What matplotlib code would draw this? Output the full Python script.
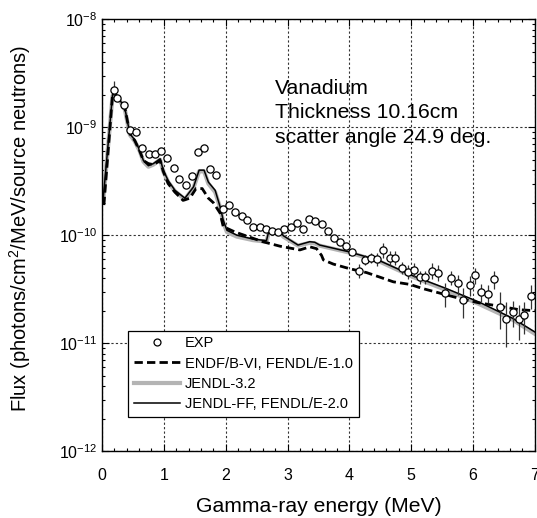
import matplotlib
matplotlib.use("Agg")
import matplotlib.pyplot as plt
import matplotlib.ticker as ticker
from matplotlib.lines import Line2D
import numpy as np

plt.rcParams['font.family'] = ['Liberation Sans', 'DejaVu Sans']
plt.rcParams['mathtext.fontset'] = 'custom'
plt.rcParams['mathtext.rm'] = 'Liberation Sans'
plt.rcParams['mathtext.it'] = 'Liberation Sans'

# measured spectrum
exp_e = [0.20, 0.25, 0.36, 0.46, 0.55, 0.65, 0.76, 0.86, 0.95, 1.05,
         1.16, 1.25, 1.35, 1.46, 1.56, 1.65, 1.745, 1.85, 1.95, 2.05,
         2.15, 2.26, 2.35, 2.44, 2.55, 2.65, 2.75, 2.85, 2.95, 3.05,
         3.15, 3.25, 3.35, 3.45, 3.55, 3.66, 3.75, 3.85, 3.95, 4.05,
         4.15, 4.25, 4.35, 4.45, 4.55, 4.65, 4.74, 4.85, 4.95, 5.05,
         5.14, 5.23, 5.34, 5.44, 5.54, 5.64, 5.75, 5.84, 5.95, 6.04,
         6.13, 6.24, 6.34, 6.43, 6.54, 6.64, 6.74, 6.83, 6.94]
exp_flux = [2.23e-9, 1.88e-9, 1.62e-9, 9.5e-10, 9.1e-10, 6.4e-10, 5.6e-10, 5.6e-10, 6.0e-10, 5.2e-10,
            4.2e-10, 3.3e-10, 2.9e-10, 3.5e-10, 5.9e-10, 6.4e-10, 4.1e-10, 3.6e-10, 1.73e-10, 1.92e-10,
            1.64e-10, 1.50e-10, 1.38e-10, 1.19e-10, 1.18e-10, 1.14e-10, 1.09e-10, 1.06e-10, 1.14e-10, 1.18e-10,
            1.30e-10, 1.13e-10, 1.41e-10, 1.35e-10, 1.28e-10, 1.09e-10, 9.5e-11, 8.7e-11, 7.9e-11, 7.0e-11,
            4.7e-11, 5.9e-11, 6.2e-11, 6.0e-11, 7.3e-11, 6.2e-11, 6.2e-11, 5.0e-11, 4.6e-11, 4.8e-11,
            4.1e-11, 4.1e-11, 4.7e-11, 4.5e-11, 2.9e-11, 4.05e-11, 3.57e-11, 2.5e-11, 3.44e-11, 4.26e-11,
            2.99e-11, 2.88e-11, 3.9e-11, 2.17e-11, 1.67e-11, 1.95e-11, 1.66e-11, 1.82e-11, 2.75e-11]
exp_relerr = [0.20, 0.06, 0.06, 0.05, 0.05, 0.05, 0.05, 0.05, 0.05, 0.05,
              0.05, 0.05, 0.05, 0.05, 0.05, 0.05, 0.05, 0.05, 0.05, 0.05,
              0.05, 0.05, 0.05, 0.05, 0.05, 0.05, 0.05, 0.05, 0.05, 0.05,
              0.05, 0.05, 0.05, 0.05, 0.05, 0.05, 0.06, 0.06, 0.06, 0.07,
              0.15, 0.11, 0.11, 0.13, 0.15, 0.15, 0.15, 0.13, 0.15, 0.15,
              0.13, 0.13, 0.17, 0.17, 0.25, 0.15, 0.21, 0.31, 0.21, 0.17,
              0.19, 0.19, 0.19, 0.38, 0.45, 0.27, 0.35, 0.33, 0.25]

# JENDL-FF, FENDL/E-2.0
ff_e = [0.02, 0.17, 0.22, 0.29, 0.37, 0.45, 0.53, 0.61, 0.67, 0.75,
        0.83, 0.94, 0.99, 1.07, 1.18, 1.34, 1.48, 1.57, 1.65, 1.72,
        1.83, 1.91, 1.96, 2.02, 2.18, 2.44, 2.66, 2.70, 2.88, 2.93,
        3.17, 3.36, 3.44, 3.52, 4.00, 4.49, 5.03, 5.57, 6.10, 6.64, 7.0]
ff_flux = [2.2e-10, 2.0e-9, 2.0e-9, 1.78e-9, 1.49e-9, 8.7e-10, 7.6e-10, 6.1e-10, 4.9e-10, 4.4e-10,
           4.6e-10, 5.1e-10, 4.0e-10, 3.2e-10, 2.6e-10, 2.2e-10, 2.8e-10, 4.0e-10, 4.0e-10, 3.1e-10,
           2.6e-10, 1.83e-10, 1.38e-10, 1.11e-10, 1.0e-10, 9.2e-11, 8.9e-11, 1.11e-10, 1.11e-10, 9.9e-11,
           8.1e-11, 8.7e-11, 8.6e-11, 8.1e-11, 7.0e-11, 5.8e-11, 4.2e-11, 3.2e-11, 2.4e-11, 1.7e-11, 1.27e-11]

# JENDL-3.2
j32_e = [0.02, 0.17, 0.22, 0.29, 0.37, 0.45, 0.53, 0.61, 0.67, 0.75,
         0.83, 0.94, 0.99, 1.07, 1.18, 1.34, 1.48, 1.57, 1.65, 1.72,
         1.83, 1.91, 1.96, 2.02, 2.18, 2.44, 2.66, 2.70, 2.88, 2.93,
         3.17, 3.36, 3.44, 3.52, 4.00, 4.49, 5.03, 5.57, 6.10, 6.64, 7.0]
j32_flux = [2.1e-10, 1.95e-9, 1.95e-9, 1.75e-9, 1.45e-9, 8.5e-10, 7.4e-10, 6.0e-10, 4.8e-10, 4.3e-10,
            4.5e-10, 5.0e-10, 3.9e-10, 3.1e-10, 2.55e-10, 2.15e-10, 2.75e-10, 3.9e-10, 3.9e-10, 3.0e-10,
            2.5e-10, 1.8e-10, 1.32e-10, 1.07e-10, 9.7e-11, 9.0e-11, 8.7e-11, 1.08e-10, 1.08e-10, 9.7e-11,
            8.0e-11, 8.5e-11, 8.4e-11, 8.0e-11, 6.9e-11, 5.7e-11, 4.1e-11, 3.1e-11, 2.3e-11, 1.65e-11, 1.22e-11]

# ENDF/B-VI, FENDL/E-1.0
endf_e = [0.03, 0.17, 0.22, 0.29, 0.37, 0.45, 0.53, 0.61, 0.67, 0.75,
          0.83, 0.94, 0.99, 1.07, 1.18, 1.31, 1.42, 1.52, 1.62, 1.72,
          1.80, 1.91, 1.96, 2.15, 2.60, 2.88, 3.20, 3.36, 3.47, 3.55,
          3.58, 3.74, 4.00, 4.28, 4.54, 4.71, 4.98, 5.19, 5.78, 6.10,
          6.43, 6.75, 7.0]
endf_flux = [1.9e-10, 2.0e-9, 2.0e-9, 1.78e-9, 1.5e-9, 8.7e-10, 7.5e-10, 6.0e-10, 4.9e-10, 4.6e-10,
             4.5e-10, 4.9e-10, 3.9e-10, 3.0e-10, 2.5e-10, 2.1e-10, 2.2e-10, 2.7e-10, 2.7e-10, 2.2e-10,
             2.0e-10, 1.6e-10, 1.2e-10, 1.07e-10, 8.7e-11, 7.9e-11, 7.3e-11, 7.8e-11, 7.5e-11, 6.5e-11,
             5.9e-11, 5.4e-11, 4.9e-11, 4.5e-11, 4.0e-11, 3.7e-11, 3.5e-11, 3.2e-11, 2.6e-11, 2.36e-11,
             2.2e-11, 2.04e-11, 2.0e-11]

fig = plt.figure(figsize=(5.37, 5.18), dpi=100)
ax = fig.add_axes([0.19, 0.129, 0.806, 0.834])

l_j32, = ax.plot(j32_e, j32_flux, color='#b4b4b4', lw=3.0, zorder=2)
l_endf, = ax.plot(endf_e, endf_flux, color='black', lw=2.0, ls=(0, (3, 1.5)), zorder=3)
l_ff, = ax.plot(ff_e, ff_flux, color='black', lw=1.1, zorder=4)

exp_flux_a = np.array(exp_flux)
exp_err = exp_flux_a * np.array(exp_relerr)
ax.errorbar(exp_e, exp_flux, yerr=exp_err, fmt='o', ms=5.2, mfc='white', mec='black',
            mew=0.9, ecolor='#333333', elinewidth=0.9, capsize=0, zorder=5)

ax.set_yscale('log')
ax.set_xlim(0, 7)
ax.set_ylim(1e-12, 1e-8)

ax.xaxis.set_major_locator(ticker.MultipleLocator(1))
ax.xaxis.set_minor_locator(ticker.MultipleLocator(0.2))
ax.yaxis.set_major_locator(ticker.LogLocator(base=10, numticks=10))
ax.yaxis.set_minor_locator(ticker.LogLocator(base=10, subs=np.arange(2, 10), numticks=10))
ax.yaxis.set_minor_formatter(ticker.NullFormatter())
ax.yaxis.set_major_formatter(ticker.FuncFormatter(lambda v, p: r'$10^{%d}$' % round(np.log10(v))))

ax.tick_params(which='both', direction='in', top=True, right=True, labelsize=11.5, width=0.8)
ax.tick_params(which='major', length=5)
ax.tick_params(which='minor', length=2.5)
ax.tick_params(axis='x', pad=12)
ax.grid(True, which='major', ls=(0, (2, 2)), color='#333333', lw=0.8)
for s in ax.spines.values():
    s.set_linewidth(1.0)

ax.set_xlabel('Gamma-ray energy (MeV)', fontsize=15.2)
ax.set_ylabel('Flux (photons/cm$^2$/MeV/source neutrons)', fontsize=14.5)
ax.xaxis.set_label_coords(0.5, -0.106)
ax.yaxis.set_label_coords(-0.16, 0.515)

ax.text(0.40, 0.862, 'Vanadium\nThickness 10.16cm\nscatter angle 24.9 deg.',
        transform=ax.transAxes, fontsize=15.3, va='top', ha='left', linespacing=1.38)

exp_handle = Line2D([], [], ls='none', marker='o', ms=5, mfc='white', mec='black', mew=0.9)
leg = ax.legend([exp_handle, l_endf, l_j32, l_ff],
                ['EXP', 'ENDF/B-VI, FENDL/E-1.0', 'JENDL-3.2', 'JENDL-FF, FENDL/E-2.0'],
                loc='lower left', bbox_to_anchor=(0.06, 0.08), fontsize=10.5,
                frameon=True, fancybox=False, edgecolor='black', framealpha=1,
                handlelength=3.2, handletextpad=0.3, borderpad=0.4, labelspacing=0.42,
                borderaxespad=0)
leg.get_frame().set_linewidth(0.9)

fig.savefig('out.png', dpi=100)
